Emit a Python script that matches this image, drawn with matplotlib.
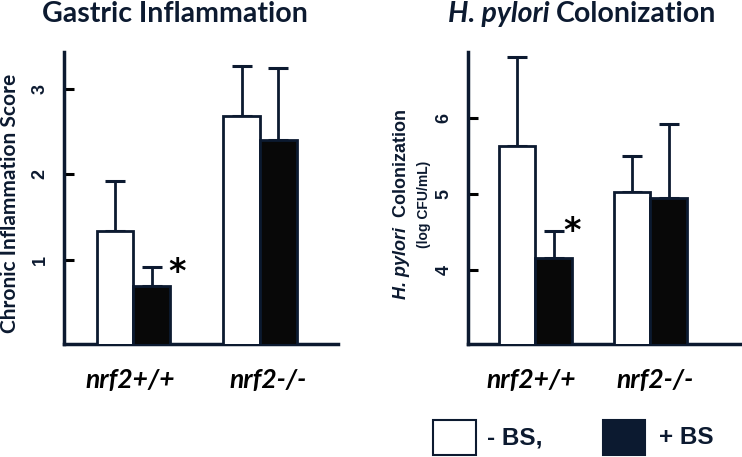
import matplotlib
matplotlib.use("Agg")
import matplotlib.pyplot as plt
from matplotlib.patches import Rectangle
import numpy as np

# data
groups = ["nrf2+/+", "nrf2-/-"]
inflam_minus = [1.34, 2.68]
inflam_minus_err = [0.58, 0.59]
inflam_plus = [0.70, 2.40]
inflam_plus_err = [0.22, 0.84]

colon_minus = [5.63, 5.03]
colon_minus_err = [1.16, 0.46]
colon_plus = [4.16, 4.95]
colon_plus_err = [0.35, 0.97]

navy = "#0c1a30"
W, H = 742, 457

fig = plt.figure(figsize=(7.42, 4.57), dpi=100)
renderer = fig.canvas.get_renderer()

def px(x, y):
    return x / W, 1 - y / H

def rich_text(cx, cy, pieces, vertical=False):
    # lay out differently styled pieces side by side, centred on (cx, cy) in pixels
    texts = []
    sizes = []
    for s, kw in pieces:
        t = fig.text(0, 0, s, rotation=90 if vertical else 0, ha="left", va="center", **kw)
        bb = t.get_window_extent(renderer)
        texts.append(t)
        sizes.append(bb.height if vertical else bb.width)
    total = sum(sizes)
    pos = -total / 2
    for t, sz in zip(texts, sizes):
        if vertical:
            t.set_ha("center")
            t.set_va("bottom")
            t.set_position(px(cx, cy - pos))
        else:
            t.set_position(px(cx + pos, cy))
        pos += sz

def panel(left_px, right_px, vals_m, err_m, vals_p, err_p, bw, xlim, ylim, yticks):
    l, b = px(left_px, 344)
    ax = fig.add_axes([l, b, (right_px - left_px) / W, (344 - 52) / H])
    x = np.arange(len(groups))
    ax.bar(x - bw / 2, vals_m, bw, color="white", edgecolor=navy, linewidth=2.0, zorder=3)
    ax.bar(x + bw / 2, vals_p, bw, color="#080808", edgecolor=navy, linewidth=2.0, zorder=3)
    ax.errorbar(x - bw / 2, vals_m, yerr=[np.zeros(2), err_m], fmt="none", ecolor=navy,
                elinewidth=2.0, capsize=7, capthick=2.2, zorder=2)
    ax.errorbar(x + bw / 2, vals_p, yerr=[np.zeros(2), err_p], fmt="none", ecolor=navy,
                elinewidth=2.0, capsize=7, capthick=2.2, zorder=2)
    ax.set_xlim(*xlim)
    ax.set_ylim(*ylim)
    ax.set_xticks([])
    ax.set_yticks(yticks)
    ax.set_yticklabels([str(t) for t in yticks], rotation=90, va="center",
                       fontsize=13, fontweight="bold", family="Liberation Sans", color=navy)
    ax.tick_params(axis="y", direction="in", length=7, width=2.2, color="black", pad=11)
    for s in ["top", "right"]:
        ax.spines[s].set_visible(False)
    for s in ["left", "bottom"]:
        ax.spines[s].set_linewidth(2.5)
        ax.spines[s].set_color(navy)
    return ax

ax1 = panel(64, 338, inflam_minus, inflam_minus_err, inflam_plus, inflam_plus_err,
            0.29, (-0.547, 1.616), (0.02, 3.43), [1, 2, 3])
ax2 = panel(468, 742, colon_minus, colon_minus_err, colon_plus, colon_plus_err,
            0.319, (-0.585, 1.797), (3.03, 6.86), [4, 5, 6])

# significance stars
ax1.text(0.345, inflam_plus[0] + inflam_plus_err[0] - 0.07, "*", fontsize=24,
         fontweight="bold", ha="center", va="center", color="black")
ax2.text(0.32, colon_plus[0] + colon_plus_err[0] - 0.01, "*", fontsize=24,
         fontweight="bold", ha="center", va="center", color="black")

# titles
title_kw = dict(fontsize=20.5, fontweight="bold", family="Lato", color=navy)
fig.text(*px(175, 14), "Gastric Inflammation", ha="center", va="center", **title_kw)
rich_text(582, 14, [("H. pylori ", dict(title_kw, style="italic")),
                    ("Colonization", title_kw)])

# y labels
fig.text(*px(10, 203), "Chronic Inflammation Score", rotation=90, ha="center", va="center",
         fontsize=15, fontweight="bold", family="Lato", color=navy)
lab_kw = dict(fontsize=13, fontweight="bold", family="Liberation Sans", color=navy)
rich_text(402, 204, [("H. pylori", dict(lab_kw, style="italic")),
                     ("  Colonization", lab_kw)], vertical=True)
fig.text(*px(424, 204), "(log CFU/mL)", rotation=90, ha="center", va="center",
         fontsize=10, fontweight="bold", family="Liberation Sans", color=navy)

# group labels
for cx, g in zip([130, 268, 531, 655], groups * 2):
    fig.text(*px(cx, 380), g, ha="center", va="center", fontsize=19,
             fontweight="bold", style="italic", family="Lato", color="black")

# legend
fig.patches.append(Rectangle(px(433, 455), 43 / W, 35 / H, transform=fig.transFigure,
                             facecolor="white", edgecolor=navy, linewidth=1.5))
fig.patches.append(Rectangle(px(603, 455), 42 / W, 35 / H, transform=fig.transFigure,
                             facecolor=navy, edgecolor=navy, linewidth=1.5))
fig.text(*px(487, 438), "- BS,", ha="left", va="center", fontsize=17.5,
         fontweight="bold", family="Liberation Sans", color=navy)
fig.text(*px(659, 438), "+ BS", ha="left", va="center", fontsize=17.5,
         fontweight="bold", family="Liberation Sans", color=navy)

plt.savefig("out.png", dpi=100)
